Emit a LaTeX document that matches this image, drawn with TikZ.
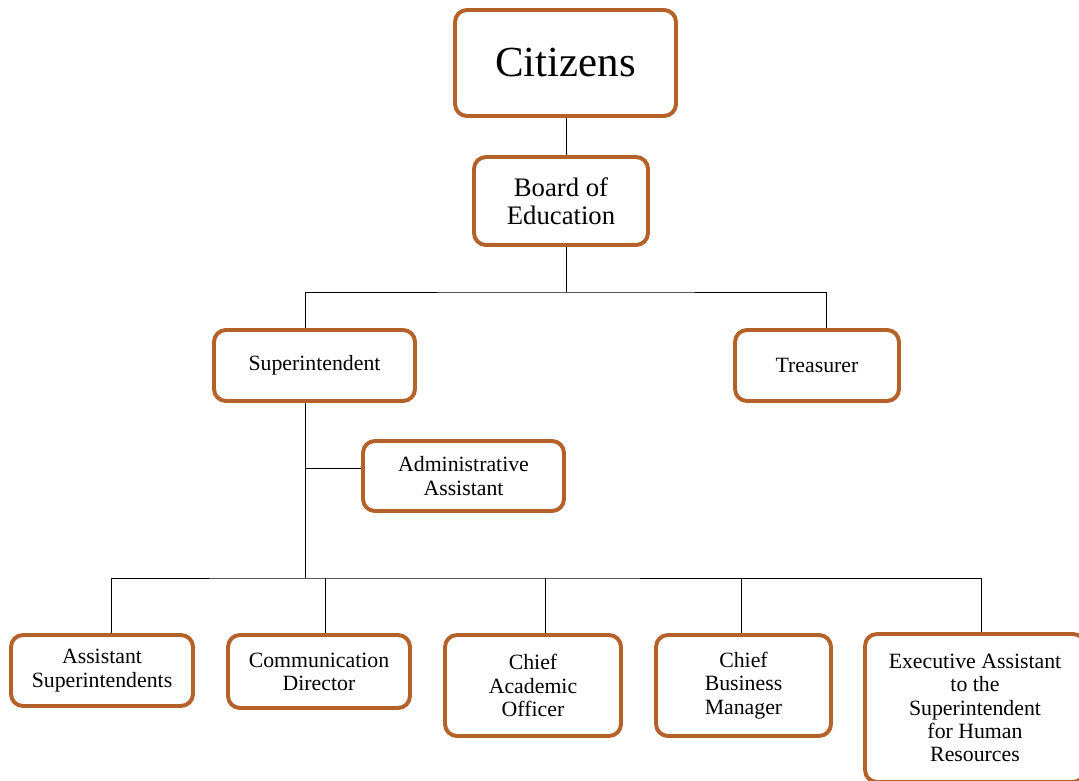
\documentclass[tikz,border=0pt]{standalone}
\usepackage{fontspec}
\setmainfont{Liberation Serif}
\definecolor{boxbrown}{HTML}{B5612A}
\newcommand{\txt}[1]{\fontsize{#1}{#1}\selectfont}

\begin{document}
\begin{tikzpicture}[x=0.025cm, y=-0.025cm,
		orgbox/.style={draw=boxbrown, line width=2.8pt, rounded corners=0.3cm, fill=white,
			align=center, inner sep=0pt, font=\fontsize{15.5}{16.5}\selectfont},
		boxsize/.style 2 args={minimum width=#1*0.025cm, minimum height=#2*0.025cm},
		link/.style={draw=black, line width=0.7pt}]
		%%%%% START %%%%%
		
		\useasboundingbox (0, 0) rectangle (1079, 781);
		
		\node[orgbox, boxsize={221}{106}, font=\txt{30.5}] (cit) at (565.5, 63) {Citizens};
		\node[orgbox, boxsize={174}{88}, font=\fontsize{19}{20}\selectfont] (board) at (561, 201) {Board of\\Education};
		
		\node[orgbox, boxsize={201}{71}] (sup) at (314.5, 365.5) {Superintendent};
		\node[orgbox, boxsize={164}{71}] (treas) at (817, 365.5) {Treasurer};
		\node[orgbox, boxsize={201}{70}] (admin) at (463.5, 476) {Administrative\\Assistant};
		
		\node[orgbox, boxsize={182}{71}] (asst) at (102, 670.5) {Assistant\\Superintendents};
		\node[orgbox, boxsize={182}{73}] (comm) at (319, 671.5) {Communication\\Director};
		\node[orgbox, boxsize={176}{101}] (acad) at (533, 685.5) {Chief\\Academic\\Officer};
		\node[orgbox, boxsize={175}{101}] (bus) at (743.5, 685.5) {Chief\\Business\\Manager};
		\node[orgbox, boxsize={220}{148}] (exec) at (975, 708) {Executive Assistant\\to the\\Superintendent\\for Human\\Resources};
		
		% connectors
		\coordinate (top) at (566, 292);
		\coordinate (mid) at (305, 578);
		
		\draw[link] (cit.south -| top) -- (board.north -| top);
		\draw[link] (board.south -| top) -- (top);
		\draw[link] (sup.north -| 305, 0) |- (top) -| (treas.north -| 826, 0);
		
		\draw[link] (sup.south -| mid) -- (mid);
		\draw[link] (admin.west |- 0, 468) -- (305, 468);
		
		\draw[link] (asst.north -| 111, 0) |- (mid) -| (exec.north -| 981, 0);
		\draw[link] (comm.north -| 325, 0) -- (325, 578);
		\draw[link] (acad.north -| 545, 0) -- (545, 578);
		\draw[link] (bus.north -| 741, 0) -- (741, 578);
		
		%%%%% END %%%%%
	\end{tikzpicture}
\end{document}
